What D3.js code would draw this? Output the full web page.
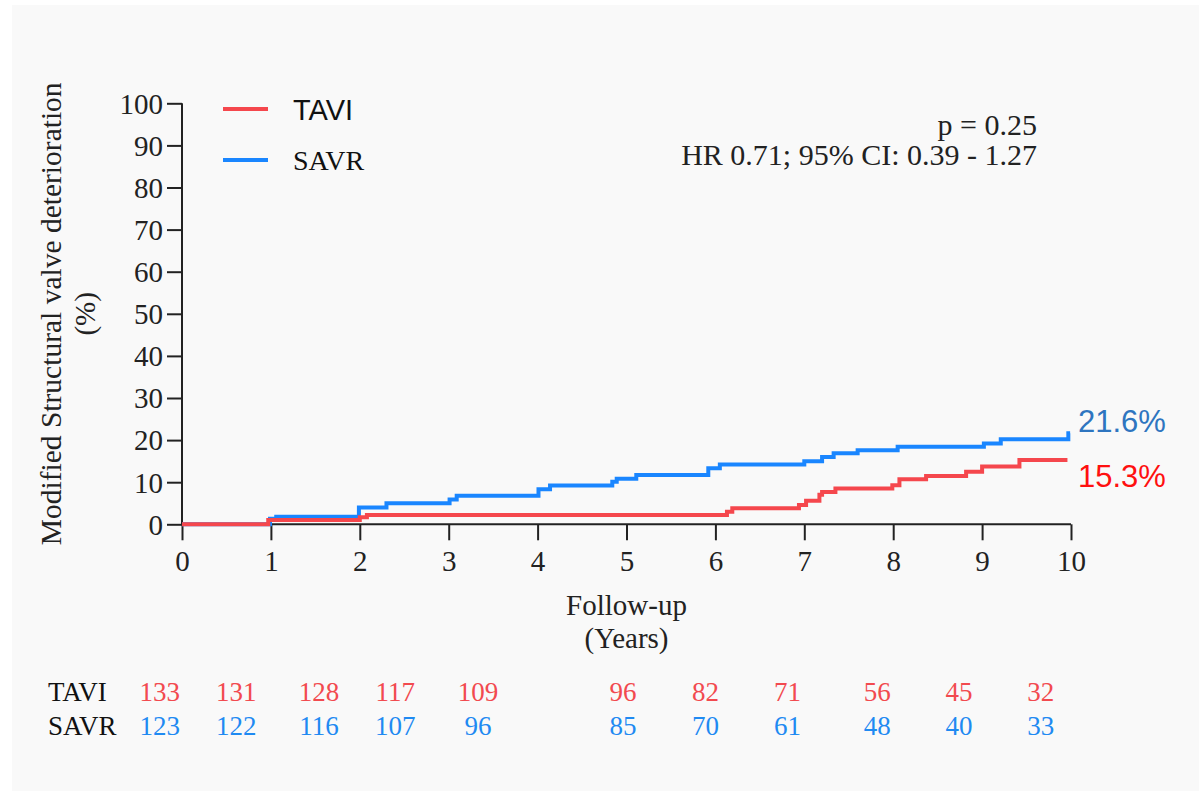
<!DOCTYPE html>
<html>
<head>
<meta charset="utf-8">
<script src="https://cdn.jsdelivr.net/npm/d3@7"></script>
<style>
  html, body { margin: 0; padding: 0; background: #ffffff; }
  svg { display: block; }
</style>
</head>
<body>
<svg id="chart" width="1204" height="791"></svg>
<script>
// Cumulative incidence of modified structural valve deterioration (%), step curves
const taviTimes  = [0, 0.97, 2.0, 2.08, 6.13, 6.19, 6.94, 7.02, 7.17, 7.2, 7.35, 7.99, 8.07, 8.37, 8.82, 9.0, 9.42, 9.96];
const taviValues = [0, 1.0, 1.7, 2.2, 3.0, 3.8, 4.6, 5.6, 7.0, 7.7, 8.5, 9.3, 10.7, 11.5, 12.5, 13.7, 15.3, 15.3];
const savrTimes  = [0, 0.99, 1.06, 1.99, 2.3, 3.01, 3.09, 4.01, 4.14, 4.84, 4.89, 5.11, 5.92, 6.05, 7.0, 7.2, 7.33, 7.6, 8.05, 9.02, 9.21, 9.97, 9.99];
const savrValues = [0, 1.3, 1.8, 4.0, 5.0, 5.9, 6.8, 8.3, 9.2, 10.1, 10.8, 11.7, 13.3, 14.2, 15.0, 16.0, 16.9, 17.6, 18.4, 19.2, 20.2, 21.6, 21.6];

// Final estimates printed at the curve ends
const endLabels = ["15.3%", "21.6%"];

// Axis ticks
const xTicks = [0, 1, 2, 3, 4, 5, 6, 7, 8, 9, 10];
const yTicks = [0, 10, 20, 30, 40, 50, 60, 70, 80, 90, 100];

// Numbers at risk
const groups = ["TAVI", "SAVR"];
const taviAtRisk = [133, 131, 128, 117, 109, 96, 82, 71, 56, 45, 32];
const savrAtRisk = [123, 122, 116, 107, 96, 85, 70, 61, 48, 40, 33];

// Statistics text
const pText = "p = 0.25";
const hrText = "HR 0.71; 95% CI: 0.39 - 1.27";

// ---- layout ----
const serif = "'Liberation Serif', 'Times New Roman', serif";
const sans = "'Liberation Sans', Arial, sans-serif";
const redLine = "#f5474d", blueLine = "#1a86ff";
const redText = "#f24a4f", blueText = "#1f8af2";

const svg = d3.select("#chart");
svg.append("rect").attr("x", 12).attr("y", 5).attr("width", 1187).attr("height", 786)
  .attr("fill", "#f9f9f9");

const x = d3.scaleLinear().domain([0, 10]).range([182, 1071]);
const y = d3.scaleLinear().domain([0, 100]).range([524.3, 103.3]);

// Axes
const xAxis = svg.append("g").attr("transform", `translate(0,${y(0)})`)
  .call(d3.axisBottom(x).tickValues(xTicks).tickSize(16).tickPadding(10).tickFormat(d3.format("d")));
const yAxis = svg.append("g").attr("transform", `translate(${x(0)},0)`)
  .call(d3.axisLeft(y).tickValues(yTicks).tickSize(15).tickPadding(4).tickFormat(d3.format("d")));

[xAxis, yAxis].forEach(g => {
  g.select(".domain").attr("stroke", "#222").attr("stroke-width", 2);
  g.selectAll(".tick line").attr("stroke", "#222").attr("stroke-width", 2);
  g.selectAll(".tick text").attr("fill", "#222").style("font-family", serif).style("font-size", "29px");
});
xAxis.select(".domain").attr("d", `M${x(0)},0H${x(10)}`);
yAxis.select(".domain").attr("d", `M0,${y(100)}V${y(0)}`);
yAxis.selectAll(".tick text").attr("dy", "0.34em");
xAxis.selectAll(".tick text").attr("dy", "0.7em");

// Axis titles
svg.append("text")
  .attr("transform", `translate(61,${(y(0) + y(100)) / 2}) rotate(-90)`)
  .attr("text-anchor", "middle")
  .style("font-family", serif).style("font-size", "29.5px").attr("fill", "#222")
  .text("Modified Structural valve deterioration");
svg.append("text")
  .attr("transform", `translate(95,${(y(0) + y(100)) / 2}) rotate(-90)`)
  .attr("text-anchor", "middle")
  .style("font-family", serif).style("font-size", "29px").attr("fill", "#222")
  .text("(%)");
svg.append("text").attr("x", (x(0) + x(10)) / 2).attr("y", 615).attr("text-anchor", "middle")
  .style("font-family", serif).style("font-size", "29px").attr("fill", "#222").text("Follow-up");
svg.append("text").attr("x", (x(0) + x(10)) / 2).attr("y", 648).attr("text-anchor", "middle")
  .style("font-family", serif).style("font-size", "29px").attr("fill", "#222").text("(Years)");

// Step curves
const line = d3.line().x(d => x(d[0])).y(d => y(d[1])).curve(d3.curveStepAfter);
const savrPts = savrTimes.map((t, i) => [t, savrValues[i]]);
const taviPts = taviTimes.map((t, i) => [t, taviValues[i]]);
svg.append("path").datum(savrPts).attr("d", line)
  .attr("fill", "none").attr("stroke", blueLine).attr("stroke-width", 4);
svg.append("path").datum(taviPts).attr("d", line)
  .attr("fill", "none").attr("stroke", redLine).attr("stroke-width", 4);

// Legend
const legend = svg.append("g");
legend.append("line").attr("x1", 223).attr("x2", 268).attr("y1", 109).attr("y2", 109)
  .attr("stroke", redLine).attr("stroke-width", 4);
legend.append("line").attr("x1", 223).attr("x2", 268).attr("y1", 160).attr("y2", 160)
  .attr("stroke", blueLine).attr("stroke-width", 4);
legend.append("text").attr("x", 293).attr("y", 120)
  .style("font-family", "'Liberation Sans Narrow', " + sans).style("font-size", "29px").attr("fill", "#111")
  .text(groups[0]);
legend.append("text").attr("x", 293).attr("y", 170)
  .style("font-family", serif).style("font-size", "28px").attr("fill", "#111")
  .text(groups[1]);

// Statistics
svg.append("text").attr("x", 1037).attr("y", 135).attr("text-anchor", "end")
  .style("font-family", serif).style("font-size", "30px").attr("fill", "#222").text(pText);
svg.append("text").attr("x", 1037).attr("y", 165).attr("text-anchor", "end")
  .style("font-family", serif).style("font-size", "30px").attr("fill", "#222").text(hrText);

// End-of-curve estimates
svg.append("text").attr("x", 1078).attr("y", 432)
  .style("font-family", sans).style("font-size", "31px").attr("fill", "#2e75c0").text(endLabels[1]);
svg.append("text").attr("x", 1078).attr("y", 487)
  .style("font-family", sans).style("font-size", "31px").attr("fill", "#ff1010").text(endLabels[0]);

// Numbers-at-risk table; column centres given in follow-up years
const riskCols = [-0.25, 0.61, 1.54, 2.4, 3.33, 4.96, 5.89, 6.81, 7.82, 8.74, 9.66];
const riskRows = [
  { name: groups[0], values: taviAtRisk, color: redText, yPos: 701 },
  { name: groups[1], values: savrAtRisk, color: blueText, yPos: 735 }
];
riskRows.forEach(row => {
  svg.append("text").attr("x", 48).attr("y", row.yPos)
    .style("font-family", serif).style("font-size", "27px").attr("fill", "#111").text(row.name);
  svg.append("g").selectAll("text").data(row.values).join("text")
    .attr("x", (d, i) => x(riskCols[i])).attr("y", row.yPos).attr("text-anchor", "middle")
    .style("font-family", serif).style("font-size", "27px").attr("fill", row.color)
    .text(d => d);
});
</script>
</body>
</html>
